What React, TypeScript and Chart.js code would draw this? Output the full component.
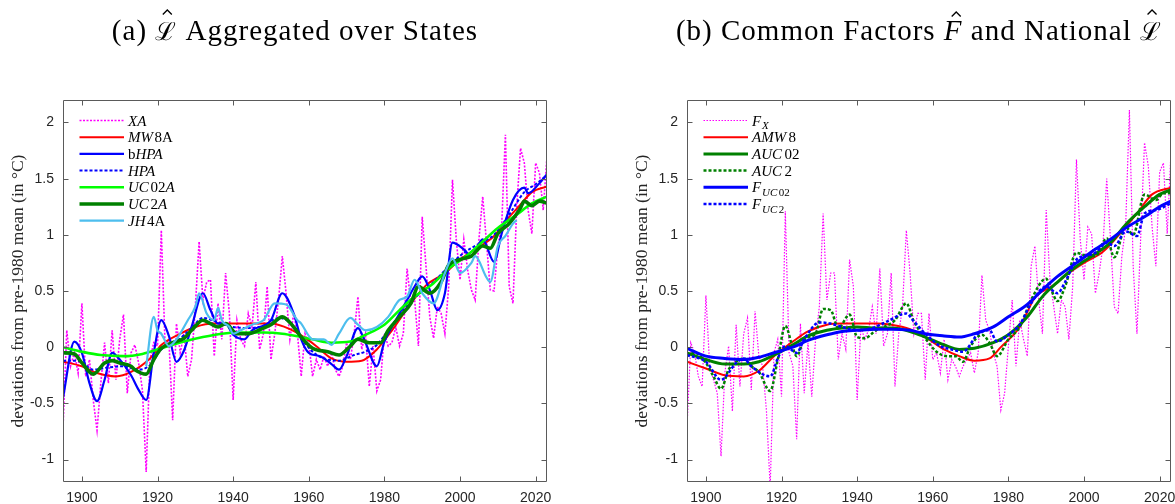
import React, { useEffect, useRef } from 'react';
import { Chart, registerables } from 'chart.js';

Chart.register(...registerables);

// ---------- axes ----------
const YEARS: number[] = Array.from({ length: 129 }, (_, i) => 1895 + i);
const X_MIN = 1895;
const X_MAX = 2023;
const Y_MIN = -1.2;
const Y_MAX = 2.2;
const X_TICKS = [1900, 1920, 1940, 1960, 1980, 2000, 2020];
const Y_TICKS = [-1, -0.5, 0, 0.5, 1, 1.5, 2];
const Y_TICK_LABELS = ['-1', '-0.5', '0', '0.5', '1', '1.5', '2'];
const Y_TITLE = 'deviations from pre-1980 mean (in °C)';

// ---------- panel (a) data ----------
const XA = [
  -0.72, 0.15, -0.17, -0.05, -0.23, 0.39, -0.26, -0.11, -0.47, -0.74,
  -0.32, 0.04, -0.32, 0.15, -0.29, 0.07, 0.29, -0.41, -0.05, 0.02,
  -0.14, -0.38, -1.11, -0.11, 0.04, 0.01, 1.04, 0.01, 0.07, -0.65,
  0.21, -0.05, 0.12, -0.26, -0.11, 0.36, 0.94, 0.42, 0.58, 0.60,
  -0.08, 0.39, 0.07, 0.66, 0.30, -0.47, 0.24, 0.07, 0.01, 0.30,
  0.18, 0.58, -0.02, 0.12, 0.54, -0.11, 0.12, 0.42, 0.81, 0.48,
  0.07, 0.30, 0.12, -0.26, 0.12, 0.04, -0.26, -0.11, -0.20, -0.08,
  -0.17, -0.05, -0.20, -0.26, -0.17, 0.04, -0.11, 0.12, 0.45, -0.02,
  0.12, -0.35, 0.01, -0.39, -0.29, 0.12, 0.01, 0.04, 0.18, 0.01,
  0.12, 0.70, 0.39, 0.42, 0.01, 1.16, 0.72, 0.27, 0.08, 0.36,
  0.30, 0.12, 0.54, 1.49, 0.96, 0.60, 0.96, 0.69, 0.51, 0.42,
  0.96, 1.34, 0.93, 0.51, 0.50, 0.90, 1.07, 1.89, 0.54, 0.39,
  1.25, 1.77, 1.64, 1.22, 1.01, 1.64, 1.55, 1.22, 1.70,
];

const MW8A: [number, number][] = [
  [1895, -0.13], [1900, -0.17], [1904, -0.23], [1909, -0.26], [1913, -0.22],
  [1918, -0.10], [1921, 0.02], [1926, 0.12], [1930, 0.18], [1935, 0.21],
  [1939, 0.21], [1944, 0.21], [1950, 0.21], [1955, 0.16], [1960, 0.06],
  [1963, -0.02], [1966, -0.10], [1970, -0.13], [1974, -0.12], [1978, -0.02],
  [1982, 0.15], [1987, 0.39], [1991, 0.55], [1996, 0.66], [2000, 0.78],
  [2004, 0.87], [2009, 0.99], [2012, 1.12], [2016, 1.27], [2019, 1.38], [2023, 1.43],
];

const BHPA: [number, number][] = [
  [1895, -0.45], [1898, 0.05], [1900, -0.05], [1902, -0.32], [1904, -0.48],
  [1906, -0.29], [1908, -0.05], [1910, -0.11], [1913, -0.25], [1915, -0.38],
  [1917, -0.47], [1919, -0.05], [1921, 0.24], [1923, 0.10], [1925, -0.13],
  [1927, -0.03], [1929, 0.18], [1932, 0.48], [1934, 0.33], [1936, 0.21],
  [1938, 0.21], [1940, 0.11], [1943, 0.07], [1945, 0.15], [1950, 0.24],
  [1953, 0.48], [1956, 0.30], [1958, 0.07], [1960, -0.05], [1963, -0.08],
  [1966, -0.15], [1968, -0.20], [1970, -0.08], [1973, 0.17], [1975, 0.04],
  [1978, -0.17], [1980, 0.05], [1983, 0.24], [1986, 0.42], [1988, 0.54],
  [1990, 0.63], [1992, 0.51], [1994, 0.33], [1996, 0.48], [1998, 0.93],
  [2001, 0.87], [2003, 0.81], [2006, 0.96], [2009, 0.76], [2011, 1.01],
  [2014, 1.31], [2017, 1.42], [2018, 1.37], [2021, 1.46], [2023, 1.54],
];

const HPA: [number, number][] = [
  [1895, -0.12], [1899, -0.12], [1903, -0.20], [1907, -0.18], [1911, -0.17],
  [1915, -0.20], [1918, -0.16], [1921, -0.02], [1925, 0.05], [1929, 0.17],
  [1932, 0.26], [1936, 0.22], [1940, 0.18], [1944, 0.17], [1948, 0.19],
  [1952, 0.26], [1955, 0.22], [1958, 0.08], [1961, -0.04], [1964, -0.10],
  [1968, -0.12], [1972, -0.07], [1975, -0.04], [1978, 0.02], [1981, 0.15],
  [1985, 0.33], [1989, 0.47], [1993, 0.58], [1997, 0.72], [2001, 0.84],
  [2005, 0.92], [2009, 1.00], [2013, 1.18], [2017, 1.38], [2020, 1.45], [2023, 1.53],
];

const UC02A: [number, number][] = [
  [1895, 0.00], [1900, -0.04], [1905, -0.07], [1911, -0.08], [1916, -0.06],
  [1921, -0.01], [1927, 0.05], [1932, 0.09], [1937, 0.12], [1942, 0.13],
  [1948, 0.13], [1953, 0.12], [1958, 0.09], [1961, 0.07], [1966, 0.04],
  [1971, 0.05], [1975, 0.11], [1980, 0.20], [1984, 0.33], [1988, 0.45],
  [1993, 0.57], [1997, 0.70], [2002, 0.82], [2006, 0.94], [2010, 1.06],
  [2015, 1.18], [2019, 1.28], [2023, 1.34],
];

const UC2A: [number, number][] = [
  [1895, -0.05], [1898, -0.06], [1900, -0.14], [1903, -0.24], [1906, -0.14],
  [1908, -0.12], [1910, -0.14], [1913, -0.17], [1914, -0.20], [1917, -0.24],
  [1919, -0.11], [1921, -0.01], [1924, 0.04], [1927, 0.08], [1929, 0.15],
  [1932, 0.24], [1934, 0.21], [1936, 0.18], [1938, 0.21], [1941, 0.12],
  [1944, 0.12], [1948, 0.17], [1950, 0.20], [1953, 0.27], [1956, 0.18],
  [1958, 0.09], [1961, -0.01], [1965, -0.04], [1968, -0.07], [1971, 0.01],
  [1973, 0.07], [1976, 0.04], [1979, 0.04], [1981, 0.15], [1984, 0.27],
  [1987, 0.39], [1989, 0.54], [1992, 0.48], [1995, 0.58], [1997, 0.73],
  [2000, 0.78], [2003, 0.81], [2006, 0.90], [2008, 0.88], [2010, 1.01],
  [2013, 1.10], [2016, 1.24], [2017, 1.30], [2019, 1.26], [2021, 1.30], [2023, 1.28],
];

const JH4A: [number, number][] = [
  [1917, -0.17], [1919, 0.27], [1920, 0.15], [1921, 0.12], [1923, 0.01],
  [1925, 0.07], [1928, 0.24], [1930, 0.36], [1931, 0.48], [1933, 0.30],
  [1935, 0.24], [1936, 0.35], [1937, 0.24], [1939, 0.18], [1940, 0.12],
  [1942, 0.15], [1945, 0.20], [1948, 0.24], [1951, 0.39], [1954, 0.38],
  [1957, 0.24], [1958, 0.21], [1960, 0.10], [1961, 0.07], [1964, 0.07],
  [1966, 0.02], [1968, 0.12], [1971, 0.26], [1973, 0.20], [1975, 0.15],
  [1978, 0.18], [1981, 0.27], [1984, 0.42], [1986, 0.45], [1988, 0.60],
  [1990, 0.48], [1993, 0.39], [1996, 0.66], [1998, 0.79], [2000, 0.66],
  [2003, 0.75], [2004, 0.81], [2007, 0.62], [2008, 0.58], [2010, 0.90],
  [2012, 0.99], [2014, 1.10], [2015, 1.13],
];

// ---------- panel (b) data ----------
const FX = [
  -0.72, 0.04, -0.05, -0.26, -0.35, 0.46, -0.17, -0.29, -0.41, -0.97,
  -0.23, 0.01, -0.57, 0.20, -0.35, 0.12, 0.26, -0.38, 0.32, -0.08,
  -0.17, -0.56, -1.25, -0.05, 0.07, -0.44, 1.21, -0.05, -0.17, -0.82,
  0.21, -0.41, 0.04, -0.44, 0.07, 0.36, 1.19, 0.42, 0.66, 0.66,
  -0.11, 0.12, -0.02, 0.78, 0.54, -0.47, 0.18, 0.07, 0.15, 0.36,
  0.12, 0.70, 0.01, 0.12, 0.66, -0.35, 0.12, 0.36, 1.04, 0.66,
  0.12, 0.30, 0.30, -0.29, 0.30, -0.11, -0.05, -0.23, 0.07, -0.29,
  -0.11, -0.17, -0.26, -0.17, -0.11, -0.05, -0.23, -0.05, 0.64, 0.24,
  0.15, -0.05, -0.17, -0.56, -0.41, 0.01, 0.42, -0.17, 0.24, 0.07,
  -0.08, 0.72, 0.90, 0.42, 0.12, 1.22, 0.60, 0.36, 0.12, 0.42,
  0.36, 0.07, 0.54, 1.67, 0.96, 0.60, 1.07, 1.01, 0.48, 0.66,
  0.90, 1.50, 0.96, 0.36, 0.30, 0.81, 1.07, 2.11, 0.72, 0.12,
  0.99, 1.82, 1.61, 1.07, 0.72, 1.56, 1.64, 1.01, 1.74,
];

const AMW8: [number, number][] = [
  [1895, -0.13], [1900, -0.19], [1905, -0.25], [1910, -0.26], [1914, -0.21],
  [1918, -0.08], [1923, 0.05], [1927, 0.14], [1932, 0.20], [1936, 0.21],
  [1940, 0.21], [1945, 0.21], [1949, 0.20], [1954, 0.16], [1958, 0.09],
  [1963, -0.02], [1967, -0.08], [1971, -0.12], [1975, -0.10], [1978, 0.00],
  [1983, 0.18], [1987, 0.44], [1992, 0.55], [1996, 0.66], [2000, 0.75],
  [2005, 0.85], [2009, 0.99], [2014, 1.19], [2018, 1.36], [2023, 1.42],
];

const AUC02: [number, number][] = [
  [1895, -0.05], [1900, -0.11], [1905, -0.15], [1910, -0.15], [1914, -0.13],
  [1918, -0.07], [1923, 0.02], [1927, 0.10], [1932, 0.15], [1936, 0.17],
  [1940, 0.18], [1945, 0.17], [1949, 0.17], [1954, 0.14], [1958, 0.09],
  [1963, 0.02], [1967, -0.02], [1971, -0.01], [1976, 0.04], [1980, 0.11],
  [1985, 0.27], [1989, 0.45], [1993, 0.58], [1998, 0.72], [2002, 0.81],
  [2007, 0.93], [2011, 1.09], [2016, 1.25], [2020, 1.36], [2023, 1.40],
];

const AUC2: [number, number][] = [
  [1895, -0.08], [1897, -0.05], [1900, -0.14], [1902, -0.26], [1904, -0.37],
  [1906, -0.20], [1908, -0.13], [1910, -0.10], [1912, -0.17], [1914, -0.22],
  [1917, -0.39], [1919, -0.11], [1921, 0.19], [1923, -0.01], [1924, -0.08],
  [1926, 0.07], [1929, 0.12], [1931, 0.34], [1933, 0.33], [1935, 0.17],
  [1938, 0.29], [1940, 0.09], [1942, 0.08], [1945, 0.15], [1947, 0.18],
  [1950, 0.24], [1953, 0.39], [1955, 0.23], [1958, 0.08], [1961, -0.04],
  [1964, -0.08], [1966, -0.08], [1968, -0.13], [1970, 0.01], [1973, 0.11],
  [1975, 0.04], [1977, -0.08], [1980, 0.07], [1983, 0.18], [1986, 0.42],
  [1990, 0.61], [1991, 0.54], [1993, 0.41], [1995, 0.54], [1998, 0.84],
  [2000, 0.82], [2003, 0.81], [2006, 0.97], [2008, 0.80], [2011, 1.07],
  [2013, 1.00], [2016, 1.36], [2019, 1.31], [2021, 1.37], [2023, 1.37],
];

const FUC02: [number, number][] = [
  [1895, -0.01], [1900, -0.08], [1905, -0.10], [1910, -0.11], [1914, -0.09],
  [1918, -0.05], [1923, 0.00], [1927, 0.06], [1932, 0.11], [1936, 0.14],
  [1940, 0.15], [1945, 0.16], [1949, 0.16], [1954, 0.15], [1958, 0.12],
  [1963, 0.10], [1967, 0.09], [1971, 0.12], [1976, 0.18], [1980, 0.27],
  [1985, 0.38], [1989, 0.51], [1993, 0.63], [1998, 0.75], [2002, 0.85],
  [2007, 0.96], [2011, 1.06], [2016, 1.16], [2020, 1.25], [2023, 1.30],
];

const FUC2: [number, number][] = [
  [1895, -0.07], [1900, -0.13], [1904, -0.29], [1908, -0.14], [1910, -0.10],
  [1912, -0.17], [1917, -0.26], [1919, -0.10], [1921, 0.01], [1924, -0.05],
  [1926, 0.07], [1930, 0.22], [1933, 0.21], [1936, 0.18], [1940, 0.15],
  [1944, 0.17], [1948, 0.23], [1953, 0.30], [1955, 0.23], [1958, 0.12],
  [1962, 0.01], [1965, -0.02], [1968, -0.04], [1972, 0.12], [1975, 0.15],
  [1977, 0.05], [1980, 0.11], [1983, 0.20], [1986, 0.39], [1990, 0.54],
  [1993, 0.48], [1995, 0.58], [1998, 0.78], [2000, 0.81], [2003, 0.84],
  [2006, 0.93], [2008, 0.90], [2011, 1.03], [2014, 0.99], [2016, 1.19],
  [2019, 1.22], [2023, 1.28],
];

// ---------- labels ----------
type Seg = [string, 'i' | 'r' | 'si' | 'sr'];
const TITLE_A = [
  { t: '(a) ' }, { t: 'ℒ', hat: true, script: true }, { t: ' Aggregated over States' },
];
const TITLE_B = [
  { t: '(b) Common Factors ' }, { t: 'F', hat: true, italic: true },
  { t: ' and National ' }, { t: 'ℒ', hat: true, script: true },
];
const LABELS_A: Seg[][] = [
  [['XA', 'i']],
  [['MW', 'i'], ['8A', 'r']],
  [['b', 'r'], ['HPA', 'i']],
  [['HPA', 'i']],
  [['UC', 'i'], ['02', 'r'], ['A', 'i']],
  [['UC', 'i'], ['2', 'r'], ['A', 'i']],
  [['JH', 'i'], ['4A', 'r']],
];
const LABELS_B: Seg[][] = [
  [['F', 'i'], ['X', 'si']],
  [['AMW', 'i'], ['8', 'r']],
  [['AUC', 'i'], ['02', 'r']],
  [['AUC', 'i'], ['2', 'r']],
  [['F', 'i'], ['UC', 'si'], ['02', 'sr']],
  [['F', 'i'], ['UC', 'si'], ['2', 'sr']],
];

const annual = (vals: number[]): [number, number][] => YEARS.map((y, i) => [y, vals[i]]);

const SERIF = "'Liberation Serif', 'DejaVu Serif', serif";
const SANS = "'Liberation Sans', Arial, sans-serif";
const AXIS_COLOR = '#5a5a5a';
const TEXT_COLOR = '#262626';

interface SeriesSpec {
  points: [number, number][];
  color: string;
  width: number;
  dash: number[];
  smooth: boolean;
}

const SERIES_A: SeriesSpec[] = [
  { points: annual(XA), color: '#FF00FF', width: 1.6, dash: [2, 1.5], smooth: false },
  { points: MW8A, color: '#FF0000', width: 2, dash: [], smooth: true },
  { points: BHPA, color: '#0000FF', width: 2.2, dash: [], smooth: true },
  { points: HPA, color: '#0000FF', width: 2, dash: [3, 2], smooth: true },
  { points: UC02A, color: '#00FF00', width: 2.6, dash: [], smooth: true },
  { points: UC2A, color: '#008000', width: 3.6, dash: [], smooth: true },
  { points: JH4A, color: '#4DBEEE', width: 2.2, dash: [], smooth: true },
];

const SERIES_B: SeriesSpec[] = [
  { points: annual(FX), color: '#FF00FF', width: 1.2, dash: [1.5, 1.5], smooth: false },
  { points: AMW8, color: '#FF0000', width: 2, dash: [], smooth: true },
  { points: AUC02, color: '#008000', width: 3, dash: [], smooth: true },
  { points: AUC2, color: '#008000', width: 2.5, dash: [3, 2], smooth: true },
  { points: FUC02, color: '#0000FF', width: 3, dash: [], smooth: true },
  { points: FUC2, color: '#0000FF', width: 2.5, dash: [3, 2], smooth: true },
];

const boxPlugin = {
  id: 'matlabBox',
  afterDatasetsDraw(chart: any) {
    const { ctx, chartArea: a, scales } = chart;
    const x = scales.x;
    const y = scales.y;
    const TL = 5;
    ctx.save();
    ctx.strokeStyle = AXIS_COLOR;
    ctx.lineWidth = 1;
    ctx.setLineDash([]);
    ctx.beginPath();
    const L = Math.round(a.left) + 0.5;
    const R = Math.round(a.right) - 0.5;
    const T = Math.round(a.top) + 0.5;
    const B = Math.round(a.bottom) - 0.5;
    ctx.rect(L, T, R - L, B - T);
    for (const v of X_TICKS) {
      const px = Math.round(x.getPixelForValue(v)) + 0.5;
      ctx.moveTo(px, B); ctx.lineTo(px, B - TL);
      ctx.moveTo(px, T); ctx.lineTo(px, T + TL);
    }
    for (const v of Y_TICKS) {
      const py = Math.round(y.getPixelForValue(v)) + 0.5;
      ctx.moveTo(L, py); ctx.lineTo(L + TL, py);
      ctx.moveTo(R, py); ctx.lineTo(R - TL, py);
    }
    ctx.stroke();
    ctx.restore();
  },
};

function makeLegendPlugin(labels: Seg[][]) {
  return {
    id: 'mathLegend',
    afterDraw(chart: any) {
      const { ctx, chartArea: a } = chart;
      ctx.save();
      chart.data.datasets.forEach((ds: any, i: number) => {
        const rowY = a.top + 20.5 + i * 16.7;
        ctx.strokeStyle = ds.borderColor;
        ctx.lineWidth = ds.borderWidth;
        ctx.setLineDash(ds.borderDash || []);
        ctx.beginPath();
        ctx.moveTo(a.left + 16.5, rowY);
        ctx.lineTo(a.left + 61, rowY);
        ctx.stroke();
        ctx.setLineDash([]);
        let tx = a.left + 65;
        const base = rowY + 5;
        ctx.fillStyle = '#000';
        ctx.textBaseline = 'alphabetic';
        ctx.textAlign = 'left';
        for (const [t, st] of labels[i]) {
          const sub = st === 'si' || st === 'sr';
          const ital = st === 'i' || st === 'si';
          ctx.font = `${ital ? 'italic ' : ''}${sub ? 11 : 15}px ${SERIF}`;
          ctx.fillText(t, tx, sub ? base + 3.5 : base);
          tx += ctx.measureText(t).width + (ital ? 0.8 * t.length : 0);
        }
      });
      ctx.restore();
    },
  };
}

function makeTitlePlugin(parts: { t: string; hat?: boolean; italic?: boolean; script?: boolean }[]) {
  return {
    id: 'panelTitle',
    afterDraw(chart: any) {
      const { ctx } = chart;
      const size = 29;
      const fontOf = (p: any) =>
        `${p.italic ? 'italic ' : ''}${p.script ? 25 : size}px ${SERIF}`;
      ctx.save();
      ctx.letterSpacing = '1px';
      let total = 0;
      for (const p of parts) { ctx.font = fontOf(p); total += ctx.measureText(p.t).width; }
      let x = 295 - total / 2;
      const baseY = 40;
      ctx.fillStyle = '#000';
      ctx.textBaseline = 'alphabetic';
      ctx.textAlign = 'left';
      for (const p of parts) {
        ctx.font = fontOf(p);
        const w = ctx.measureText(p.t).width;
        ctx.fillText(p.t, x, baseY);
        if (p.hat) {
          const cx = x + w / 2 + (p.italic ? 3 : 1);
          const top = p.script ? baseY - 30 : baseY - 28;
          ctx.strokeStyle = '#000';
          ctx.lineWidth = 1.3;
          ctx.beginPath();
          ctx.moveTo(cx - 4.5, top + 4.5);
          ctx.lineTo(cx, top);
          ctx.lineTo(cx + 4.5, top + 4.5);
          ctx.stroke();
        }
        x += w;
      }
      ctx.restore();
    },
  };
}

function buildChart(canvas: HTMLCanvasElement, series: SeriesSpec[], labels: Seg[][], title: any[]) {
  const n = series.length;
  return new Chart(canvas, {
    type: 'line',
    data: {
      datasets: series.map((s, i) => ({
        label: labels[i].map((seg) => seg[0]).join(''),
        data: s.points.map(([x, y]) => ({ x, y })),
        borderColor: s.color,
        backgroundColor: s.color,
        borderWidth: s.width,
        borderDash: s.dash,
        pointRadius: 0,
        pointHoverRadius: 0,
        fill: false,
        tension: 0,
        cubicInterpolationMode: s.smooth ? 'monotone' : 'default',
        order: n - i,
      })),
    },
    options: {
      responsive: false,
      animation: false,
      events: [],
      layout: { padding: { top: 100, right: 43, left: 0, bottom: 0 } },
      plugins: {
        legend: { display: false },
        tooltip: { enabled: false },
        title: { display: false },
      },
      scales: {
        x: {
          type: 'linear',
          min: X_MIN,
          max: X_MAX,
          afterBuildTicks: (s: any) => { s.ticks = X_TICKS.map((v) => ({ value: v })); },
          afterFit: (s: any) => { s.height = 22; },
          grid: { display: false, drawTicks: false },
          border: { display: false },
          ticks: {
            autoSkip: false,
            maxRotation: 0,
            padding: 8,
            color: TEXT_COLOR,
            font: { family: SANS, size: 14 },
            callback: (v: any) => String(v),
          },
        },
        y: {
          type: 'linear',
          min: Y_MIN,
          max: Y_MAX,
          afterBuildTicks: (s: any) => { s.ticks = Y_TICKS.map((v) => ({ value: v })); },
          afterFit: (s: any) => { s.width = 63; },
          grid: { display: false, drawTicks: false },
          border: { display: false },
          ticks: {
            autoSkip: false,
            padding: 9,
            color: TEXT_COLOR,
            font: { family: SANS, size: 14 },
            callback: (v: any) => {
              const k = Y_TICKS.indexOf(Number(v));
              return k >= 0 ? Y_TICK_LABELS[k] : '';
            },
          },
          title: {
            display: true,
            text: Y_TITLE,
            color: TEXT_COLOR,
            font: { family: SERIF, size: 17.5 },
            padding: { top: 8, bottom: 0 },
          },
        },
      },
    } as any,
    plugins: [boxPlugin, makeLegendPlugin(labels), makeTitlePlugin(title)],
  } as any);
}

function Panel({ series, labels, title, left }: { series: SeriesSpec[]; labels: Seg[][]; title: any[]; left: number }) {
  const ref = useRef<HTMLCanvasElement | null>(null);
  useEffect(() => {
    if (!ref.current) return;
    const chart = buildChart(ref.current, series, labels, title);
    return () => chart.destroy();
  }, []);
  return (
    <canvas
      ref={ref}
      width={590}
      height={504}
      style={{ position: 'absolute', left, top: 0, width: 590, height: 504 }}
    />
  );
}

export default function App() {
  return (
    <div
      style={{
        position: 'fixed', left: 0, top: 0, width: 1175, height: 504,
        overflow: 'hidden', background: '#fff',
      }}
    >
      <Panel series={SERIES_A} labels={LABELS_A} title={TITLE_A} left={0} />
      <Panel series={SERIES_B} labels={LABELS_B} title={TITLE_B} left={624} />
    </div>
  );
}
